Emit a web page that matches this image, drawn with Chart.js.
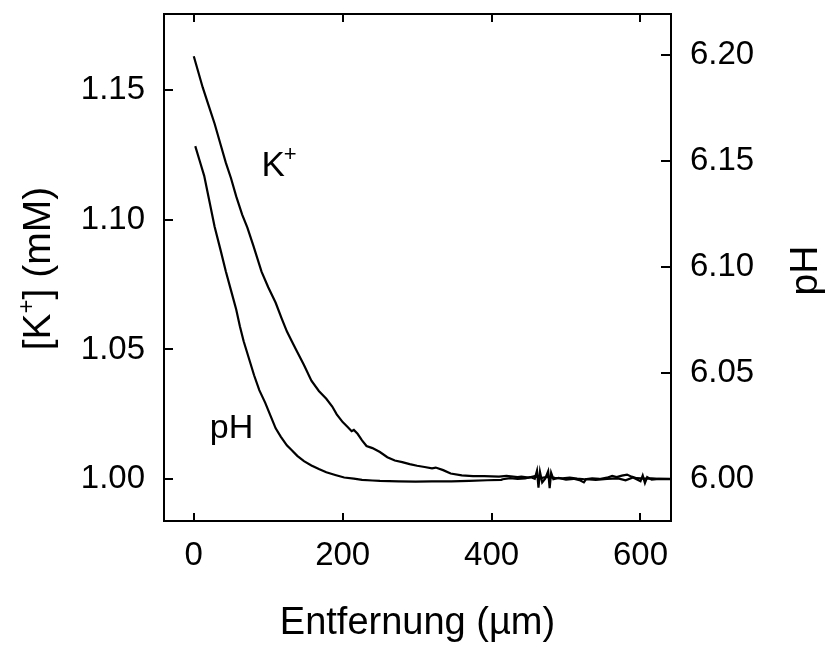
<!DOCTYPE html>
<html>
<head>
<meta charset="utf-8">
<script src="https://cdn.jsdelivr.net/npm/chart.js@4.4.1/dist/chart.umd.min.js"></script>
<style>
  body { margin: 0; background: #fff; }
  #wrap { width: 828px; height: 646px; }
</style>
</head>
<body>
<div id="wrap"><canvas id="chart" width="828" height="646"></canvas></div>
<script>
// K+ profile (left axis, mM) vs distance (µm)
var kDist = [0, 5, 12, 20, 28, 36, 43, 50, 57, 65, 72, 80, 91, 100, 110, 118, 125, 132, 139, 148,
  158, 168, 178, 186, 192, 200, 207, 212, 215, 220, 226, 232, 240, 250, 260, 270, 280, 290, 300, 310,
  320, 325, 335, 345, 360, 375, 390, 410, 420, 435, 440, 450, 458, 466, 475, 485, 495, 505, 515, 525,
  535, 545, 555, 562, 568, 575, 582, 588, 595, 605, 615, 625, 640];
var kConc = [1.163, 1.158, 1.151, 1.144, 1.137, 1.129, 1.122, 1.116, 1.109, 1.102, 1.097, 1.090, 1.080, 1.074, 1.068, 1.062, 1.057, 1.053, 1.049, 1.044,
  1.038, 1.034, 1.031, 1.028, 1.025, 1.022, 1.020, 1.0185, 1.019, 1.0175, 1.015, 1.0128, 1.012, 1.0105, 1.0085, 1.0072, 1.0066, 1.0058, 1.0052, 1.0047,
  1.0042, 1.0045, 1.0035, 1.0022, 1.0015, 1.0012, 1.0012, 1.0010, 1.0013, 1.0008, 1.0010, 1.0006, 1.0012, 1.0004, 1.0009, 1.0005, 1.0003, 1.0006, 1.0002, 1.0000,
  1.0003, 1.0001, 1.0006, 1.0013, 1.0008, 1.0014, 1.0018, 1.0010, 1.0004, 1.0002, 1.0003, 1.0001, 1.0001];

// pH profile (right axis) vs distance (µm)
var phDist = [2, 8, 14, 21, 28, 36, 43, 50, 57, 62, 67, 74, 81, 88, 96, 103, 110, 117, 125, 132,
  139, 148, 158, 168, 178, 190, 202, 215, 226, 240, 250, 275, 298, 320, 346, 370, 394, 413, 415, 425,
  435, 445, 452, 458, 461, 463, 465, 468, 472, 476, 478, 480, 483, 490, 500, 510, 518, 524, 527, 540,
  555, 570, 580, 590, 600, 603, 606, 609, 615, 625, 640];
var phVal = [6.157, 6.150, 6.143, 6.131, 6.119, 6.108, 6.098, 6.089, 6.080, 6.072, 6.065, 6.057, 6.049, 6.042, 6.036, 6.030, 6.024, 6.020, 6.016, 6.0135,
  6.011, 6.0085, 6.0065, 6.0048, 6.0033, 6.002, 6.0008, 6.0003, 5.9997, 5.9994, 5.9992, 5.9990, 5.9989, 5.9990, 5.9990, 5.9992, 5.9995, 5.9997, 6.0000, 6.0005,
  6.0001, 6.0004, 6.0010, 6.0002, 6.0040, 5.9960, 6.0035, 5.9985, 6.0003, 6.0038, 5.9958, 6.0030, 6.0000, 6.0006, 5.9998, 6.0002, 5.9996, 5.9985, 6.0000, 5.9997,
  6.0002, 6.0004, 5.9995, 6.0008, 5.9990, 6.0018, 5.9982, 6.0010, 5.9998, 6.0002, 6.0000];

var xTicks = [0, 200, 400, 600];
var kTicks = [1.00, 1.05, 1.10, 1.15];
var phTicks = [6.00, 6.05, 6.10, 6.15, 6.20];

var FONT = '"Liberation Sans", Arial, Helvetica, sans-serif';

function pairs(xs, ys) {
    return xs.map(function(x, i) { return {x: x, y: ys[i]}; });
}

// frame, inward ticks, rotated titles and curve labels
var decor = {
    id: 'decor',
    afterDraw: function(chart) {
        var ctx = chart.ctx;
        var a = chart.chartArea;
        var sx = chart.scales.x, sk = chart.scales.yK, sp = chart.scales.yPH;
        ctx.save();
        ctx.strokeStyle = '#000';
        ctx.lineWidth = 2;
        ctx.strokeRect(a.left, a.top, a.right - a.left, a.bottom - a.top);
        ctx.beginPath();
        xTicks.forEach(function(v) {
            var px = Math.round(sx.getPixelForValue(v));
            ctx.moveTo(px, a.bottom); ctx.lineTo(px, a.bottom - 8);
            ctx.moveTo(px, a.top); ctx.lineTo(px, a.top + 8);
        });
        kTicks.forEach(function(v) {
            var py = Math.round(sk.getPixelForValue(v));
            ctx.moveTo(a.left, py); ctx.lineTo(a.left + 9, py);
        });
        phTicks.forEach(function(v) {
            var py = Math.round(sp.getPixelForValue(v));
            ctx.moveTo(a.right, py); ctx.lineTo(a.right - 10, py);
        });
        ctx.stroke();

        ctx.fillStyle = '#000';
        ctx.textBaseline = 'alphabetic';

        // left title [K+] (mM), rotated
        var big = '39px ' + FONT, small = '24px ' + FONT;
        ctx.font = big;
        var w1 = ctx.measureText('[K').width;
        var w3 = ctx.measureText('] (mM)').width;
        ctx.font = small;
        var w2 = ctx.measureText('+').width;
        var total = w1 + w2 + w3;
        ctx.save();
        ctx.translate(50, (a.top + a.bottom) / 2 + 1);
        ctx.rotate(-Math.PI / 2);
        ctx.textAlign = 'left';
        ctx.font = big;
        ctx.fillText('[K', -total / 2, 0);
        ctx.font = small;
        ctx.fillText('+', -total / 2 + w1, -16);
        ctx.font = big;
        ctx.fillText('] (mM)', -total / 2 + w1 + w2, 0);
        ctx.restore();

        // right title pH, rotated the same way
        ctx.save();
        ctx.translate(817, (a.top + a.bottom) / 2 + 3);
        ctx.rotate(-Math.PI / 2);
        ctx.textAlign = 'center';
        ctx.font = '39px ' + FONT;
        ctx.fillText('pH', 0, 0);
        ctx.restore();

        // curve labels
        var kx = sx.getPixelForValue(91), ky = sk.getPixelForValue(1.1168);
        ctx.textAlign = 'left';
        ctx.font = '35px ' + FONT;
        ctx.fillText('K', kx, ky);
        var kw = ctx.measureText('K').width;
        ctx.font = '22px ' + FONT;
        ctx.fillText('+', kx + kw - 1, ky - 15);

        var px = sx.getPixelForValue(21.5), py = sk.getPixelForValue(1.0158);
        ctx.font = '34px ' + FONT;
        ctx.fillText('pH', px, py);
        ctx.restore();
    }
};

var chart = new Chart(document.getElementById('chart').getContext('2d'), {
    type: 'line',
    data: {
        datasets: [{
            label: 'K+',
            data: pairs(kDist, kConc),
            yAxisID: 'yK',
            borderColor: '#000',
            borderWidth: 2.2,
            pointRadius: 0,
            tension: 0,
            fill: false
        }, {
            label: 'pH',
            data: pairs(phDist, phVal),
            yAxisID: 'yPH',
            borderColor: '#000',
            borderWidth: 2.2,
            pointRadius: 0,
            tension: 0,
            fill: false
        }]
    },
    options: {
        responsive: false,
        animation: false,
        layout: { padding: { top: 14, left: 0, right: 0, bottom: 0 } },
        plugins: {
            legend: { display: false },
            tooltip: { enabled: false }
        },
        scales: {
            x: {
                type: 'linear',
                position: 'bottom',
                min: -40,
                max: 641,
                afterBuildTicks: function(s) { s.ticks = xTicks.map(function(v) { return {value: v}; }); },
                afterFit: function(s) { s.height = 125; s.paddingLeft = 0; s.paddingRight = 0; },
                grid: { display: false, drawTicks: false },
                border: { display: false },
                ticks: {
                    padding: 15,
                    color: '#000',
                    font: { family: FONT, size: 33 },
                    callback: function(v) { return String(v); }
                },
                title: {
                    display: true,
                    text: 'Entfernung (µm)',
                    color: '#000',
                    font: { family: FONT, size: 38 },
                    padding: { top: 0, bottom: 0 }
                }
            },
            yK: {
                type: 'linear',
                position: 'left',
                min: 0.9839,
                max: 1.1793,
                afterBuildTicks: function(s) { s.ticks = kTicks.map(function(v) { return {value: v}; }); },
                afterFit: function(s) { s.width = 164; s.paddingTop = 0; s.paddingBottom = 0; },
                grid: { display: false, drawTicks: false },
                border: { display: false },
                ticks: {
                    padding: 19,
                    color: '#000',
                    font: { family: FONT, size: 33 },
                    callback: function(v) { return v.toFixed(2); }
                }
            },
            yPH: {
                type: 'linear',
                position: 'right',
                min: 5.9803,
                max: 6.2193,
                afterBuildTicks: function(s) { s.ticks = phTicks.map(function(v) { return {value: v}; }); },
                afterFit: function(s) { s.width = 157; s.paddingTop = 0; s.paddingBottom = 0; },
                grid: { display: false, drawTicks: false },
                border: { display: false },
                ticks: {
                    padding: 19,
                    color: '#000',
                    font: { family: FONT, size: 33 },
                    callback: function(v) { return v.toFixed(2); }
                }
            }
        }
    },
    plugins: [decor]
});
</script>
</body>
</html>
